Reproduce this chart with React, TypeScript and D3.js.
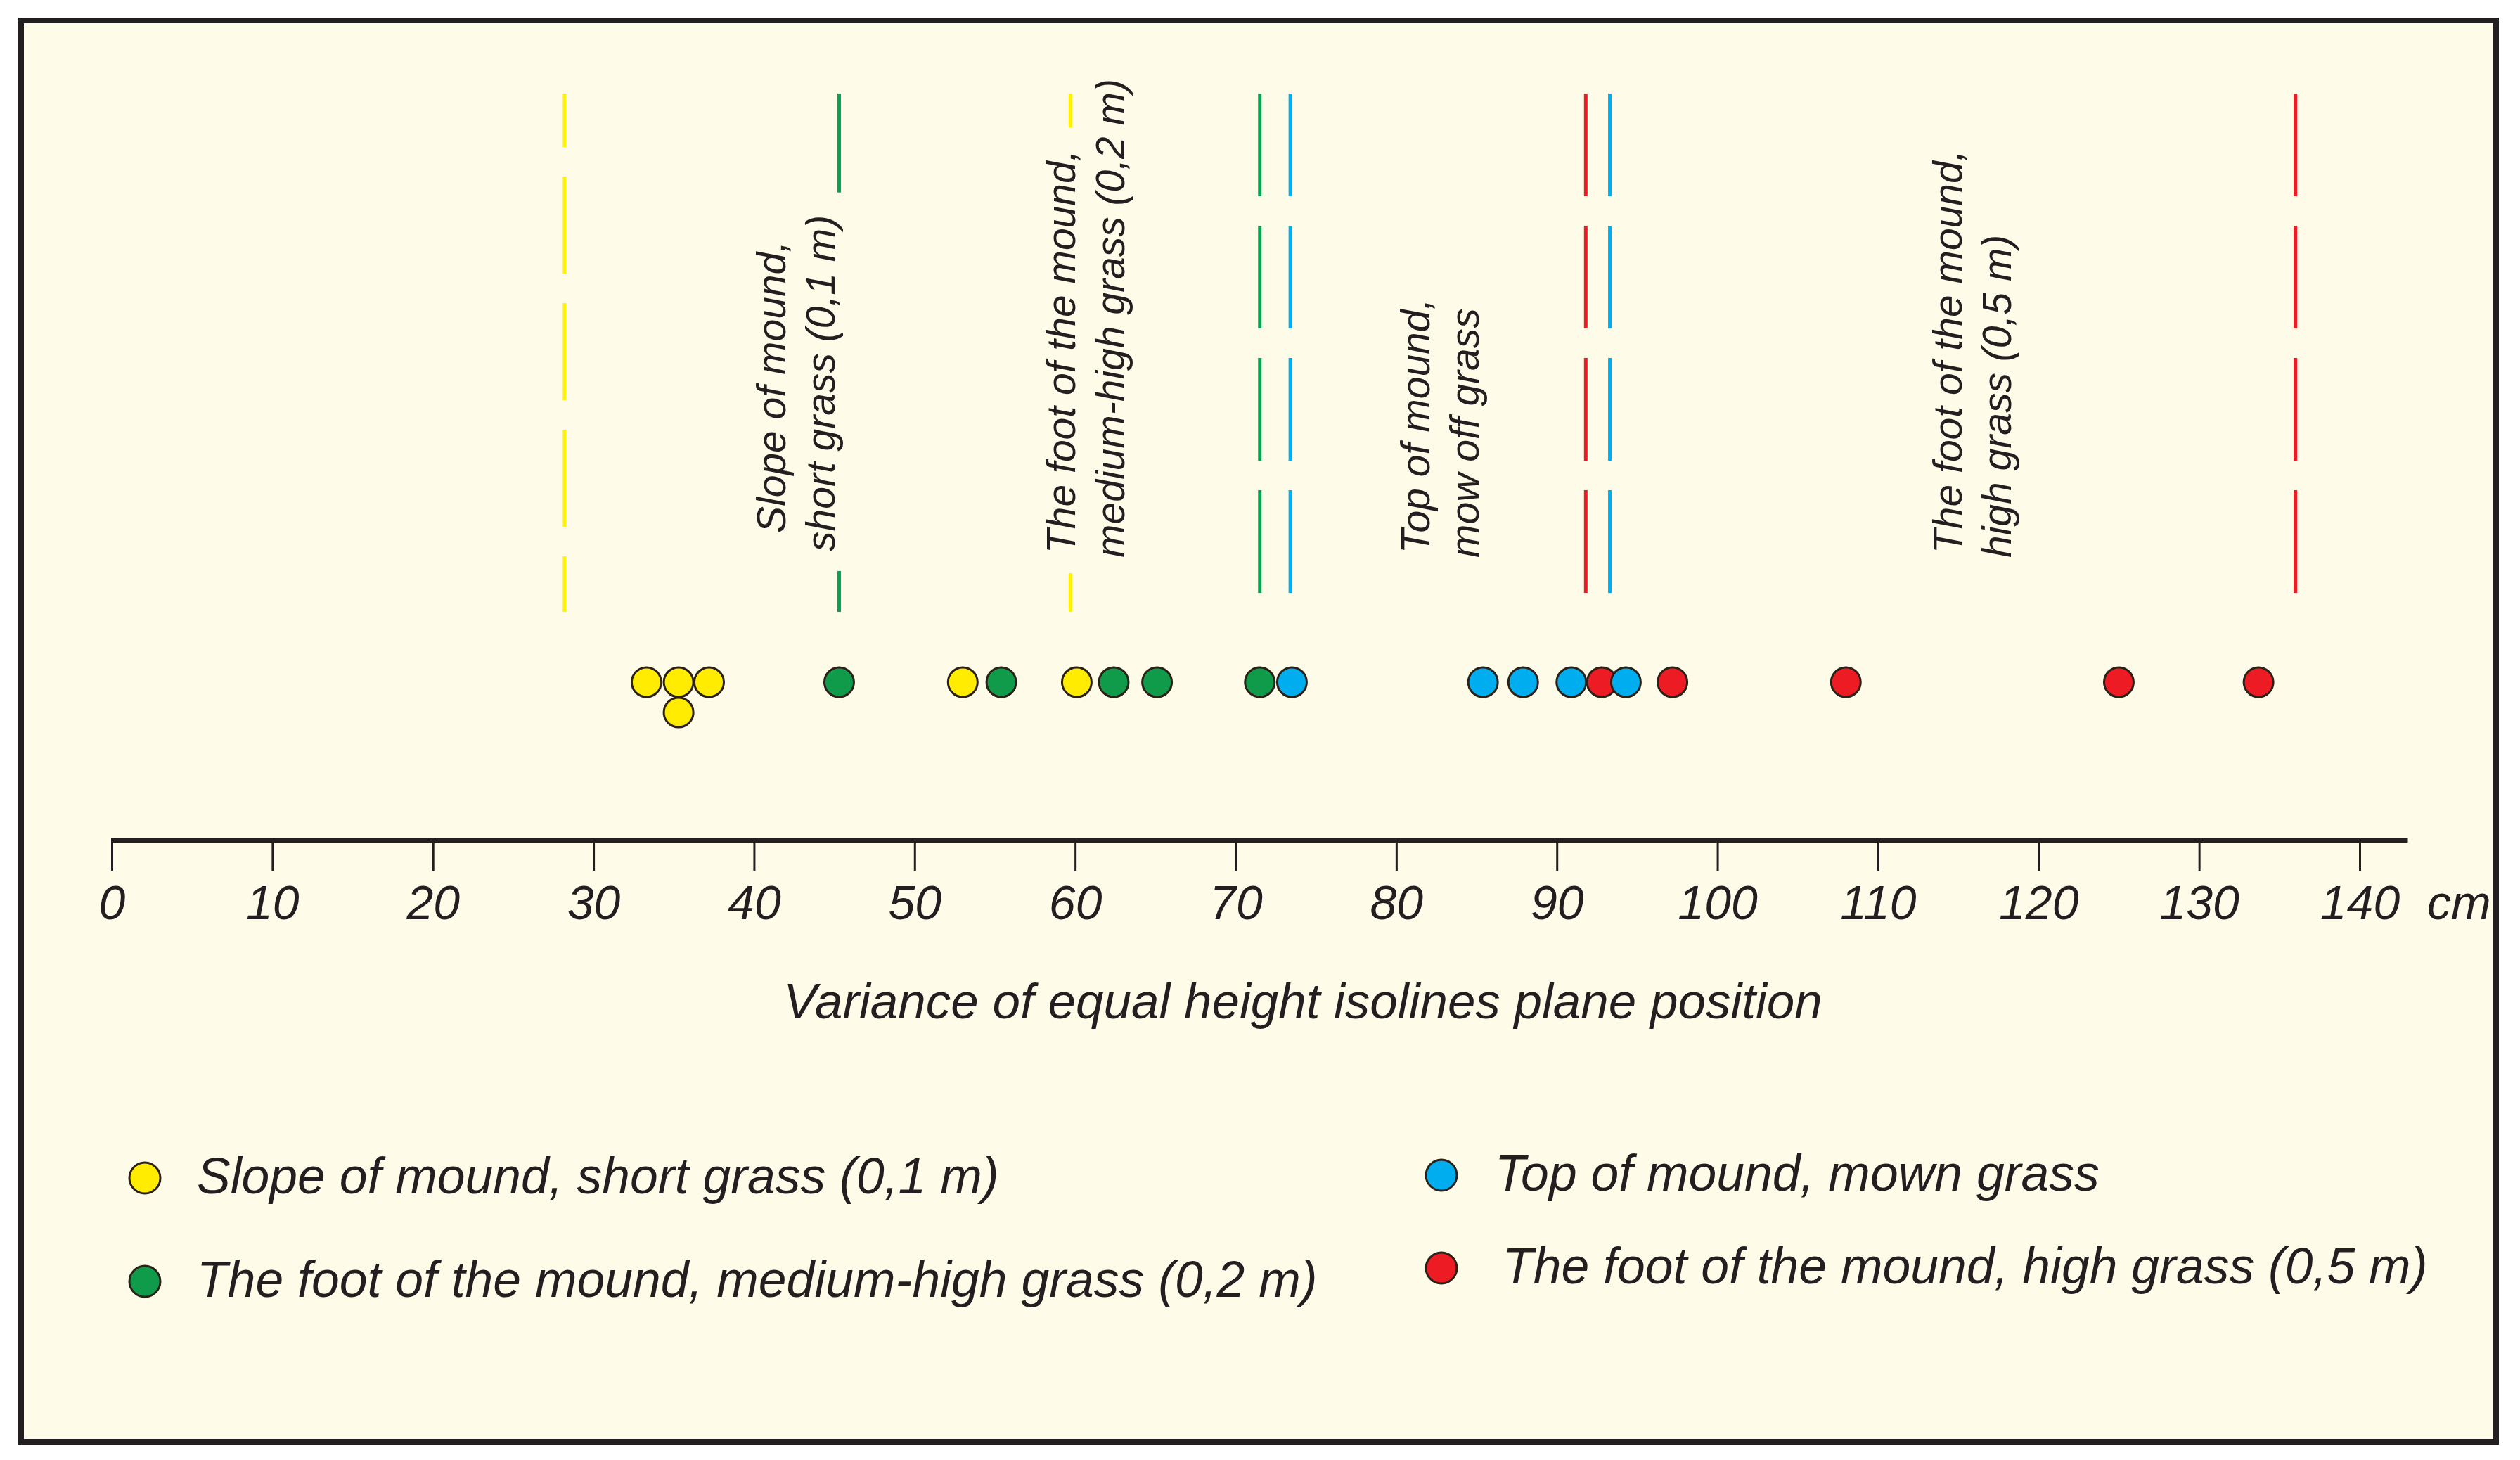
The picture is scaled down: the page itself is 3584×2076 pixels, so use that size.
import * as d3 from "d3";
import { useLayoutEffect, useRef, useState } from "react";

// dot values (cm)
const yellowValues = [33.3, 35.3, 35.3, 37.2, 53.0, 60.1];
const greenValues = [45.3, 55.4, 62.4, 65.1, 71.5];
const blueValues = [73.5, 85.4, 87.9, 90.9, 94.3];
const redValues = [92.8, 97.2, 108.0, 125.0, 133.7];

// vertical isolines (cm)
const yellowIsolines = [28.2, 59.7];
const greenIsolines = [45.3, 71.5];
const blueIsolines = [73.4, 93.3];
const redIsolines = [91.8, 136.0];

const tickValues = [0, 10, 20, 30, 40, 50, 60, 70, 80, 90, 100, 110, 120, 130, 140];
const unitLabel = "cm";
const axisTitle = "Variance of equal height isolines plane position";

const seriesKeys = ["yellow", "green", "blue", "red"];
const seriesNames = [
  "Slope of mound, short grass (0,1 m)",
  "The foot of the mound, medium-high grass (0,2 m)",
  "Top of mound, mown grass",
  "The foot of the mound, high grass (0,5 m)",
];

const annotationAt = [41.95, 59.99, 82.06, 115.2];
const annotationLines = [
  ["Slope of mound,", "short grass (0,1 m)"],
  ["The foot of the mound,", "medium-high grass (0,2 m)"],
  ["Top of mound,", "mow off grass"],
  ["The foot of the mound,", "high grass (0,5 m)"],
];

const BG = "#FEFCE8";
const INK = "#231F20";
const FONT = "'Liberation Sans', Arial, sans-serif";

const fills: Record<string, string> = {
  yellow: "#FFEC00",
  green: "#0F9B4A",
  blue: "#00AEEF",
  red: "#ED1C24",
};
const lineColors: Record<string, string> = {
  yellow: "#FFF200",
  green: "#00A651",
  blue: "#00AEEF",
  red: "#ED1C24",
};

const AnnotationLine = ({ x, y, text }: { x: number; y: number; text: string }) => {
  const ref = useRef<SVGTextElement>(null);
  const [len, setLen] = useState(0);
  const fs = 57;
  useLayoutEffect(() => {
    if (ref.current) setLen(ref.current.getComputedTextLength());
  }, [text]);
  return (
    <g transform={`translate(${x},${y}) rotate(-90)`}>
      <rect x={-28} y={-0.78 * fs} width={len + 60} height={fs * 1.02} fill={BG} />
      <text ref={ref} fontSize={fs} fontStyle="italic" fontFamily={FONT} fill={INK}>
        {text}
      </text>
    </g>
  );
};

const App = () => {
  const width = 3584;
  const height = 2076;
  const axisY = 1195;
  const dotY = 970;
  const dotR = 21;

  const xScale = d3.scaleLinear().domain([0, 140]).range([159, 3356]);

  const seriesValues = [yellowValues, greenValues, blueValues, redValues];
  const isolineValues = [yellowIsolines, greenIsolines, blueIsolines, redIsolines];

  // dots, stacked only when the same value repeats in a series
  const dots: { key: string; value: number; row: number }[] = [];
  seriesValues.forEach((vals, i) => {
    const seen: Record<string, number> = {};
    vals.forEach((v) => {
      const row = seen[v] ?? 0;
      seen[v] = row + 1;
      dots.push({ key: seriesKeys[i], value: v, row });
    });
  });
  dots.sort((a, b) => a.value - b.value);

  const isolines = isolineValues.flatMap((vals, i) =>
    vals.map((v, j) => ({ key: seriesKeys[i], value: v, idx: j }))
  );

  // dash style per line: first yellow has shifted dashes, the ones behind labels are solid
  const lineStyle = (key: string, idx: number) => {
    if (key === "yellow" && idx === 0) return { y2: 870, dash: "138 42", offset: 62 };
    if ((key === "yellow" && idx === 1) || (key === "green" && idx === 0))
      return { y2: 870, dash: "none", offset: 0 };
    return { y2: 843, dash: "146 42", offset: 0 };
  };

  const legendPos = [
    [206, 1675, 74],
    [206, 1822, 74],
    [2050, 1671, 76],
    [2050, 1803, 87],
  ];

  return (
    <svg
      width={width}
      height={height}
      style={{ position: "absolute", left: 0, top: 0, background: "#fff" }}
    >
      <rect x={30} y={29} width={3520} height={2021} fill={BG} stroke={INK} strokeWidth={8} />

      {isolines.map((l, i) => {
        const s = lineStyle(l.key, l.idx);
        return (
          <line
            key={i}
            x1={xScale(l.value)}
            x2={xScale(l.value)}
            y1={133}
            y2={s.y2}
            stroke={lineColors[l.key]}
            strokeWidth={5}
            strokeDasharray={s.dash}
            strokeDashoffset={s.offset}
          />
        );
      })}

      {annotationLines.map((lines, i) =>
        lines.map((t, j) => (
          <AnnotationLine
            key={`${i}-${j}`}
            x={xScale(annotationAt[i]) + j * 70}
            y={i === 0 && j === 0 ? 758 : j === 0 ? 787 : 793 - (i === 0 ? 9 : 0)}
            text={t}
          />
        ))
      )}

      {dots.map((d, i) => (
        <circle
          key={i}
          cx={xScale(d.value)}
          cy={dotY + d.row * 43}
          r={dotR}
          fill={fills[d.key]}
          stroke="#2B2118"
          strokeWidth={3}
        />
      ))}

      <line
        x1={xScale(0) - 1}
        x2={xScale(143)}
        y1={axisY}
        y2={axisY}
        stroke={INK}
        strokeWidth={6}
      />
      <g
        transform={`translate(0,${axisY})`}
        ref={(node) => {
          if (!node) return;
          const g = d3.select(node);
          g.call(d3.axisBottom(xScale).tickValues(tickValues).tickSize(43).tickSizeOuter(0));
          g.select(".domain").remove();
          g.attr("font-size", null).attr("font-family", null);
          g.selectAll(".tick line").attr("stroke", INK).attr("stroke-width", 3);
          g.selectAll(".tick text")
            .attr("y", 112)
            .attr("dy", null)
            .attr("fill", INK)
            .attr("font-size", 68)
            .attr("font-style", "italic")
            .attr("font-family", FONT);
        }}
      />
      <text x={3452} y={1307} fontSize={68} fontStyle="italic" fontFamily={FONT} fill={INK}>
        {unitLabel}
      </text>
      <text
        x={1853}
        y={1448}
        textAnchor="middle"
        fontSize={71}
        fontStyle="italic"
        fontFamily={FONT}
        fill={INK}
      >
        {axisTitle}
      </text>

      {seriesNames.map((name, i) => {
        const [cx, cy, dx] = legendPos[i];
        return (
          <g key={name}>
            <circle cx={cx} cy={cy} r={22} fill={fills[seriesKeys[i]]} stroke="#2B2118" strokeWidth={3} />
            <text
              x={cx + dx}
              y={cy + 22}
              fontSize={71.5}
              fontStyle="italic"
              fontFamily={FONT}
              fill={INK}
            >
              {name}
            </text>
          </g>
        );
      })}
    </svg>
  );
};

export default App;
